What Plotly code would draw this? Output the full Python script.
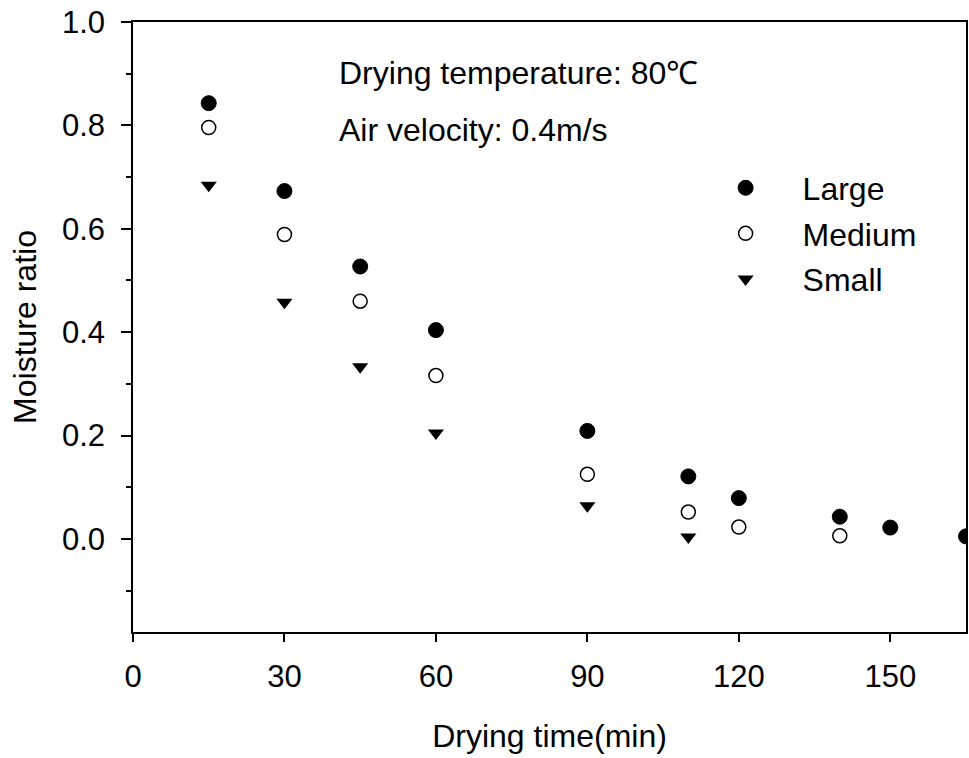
import plotly.graph_objects as go

time_large = [15, 30, 45, 60, 90, 110, 120, 140, 150, 165]
mr_large = [0.843, 0.673, 0.527, 0.404, 0.209, 0.121, 0.079, 0.043, 0.022, 0.005]
time_medium = [15, 30, 45, 60, 90, 110, 120, 140]
mr_medium = [0.796, 0.589, 0.460, 0.316, 0.125, 0.052, 0.023, 0.006]
time_small = [15, 30, 45, 60, 90, 110]
mr_small = [0.684, 0.458, 0.333, 0.205, 0.064, 0.004]

FONT = "Liberation Sans, Arial, sans-serif"

fig = go.Figure()
fig.add_trace(go.Scatter(x=time_large, y=mr_large, mode="markers", name="Large",
                         legendgroup="a",
                         marker=dict(symbol="circle", size=15, color="black",
                                     line=dict(color="black", width=1))))
fig.add_trace(go.Scatter(x=time_medium, y=mr_medium, mode="markers", name="Medium",
                         legendgroup="b",
                         marker=dict(symbol="circle-open", size=14, color="black",
                                     line=dict(color="black", width=1.5))))
fig.add_trace(go.Scatter(x=time_small, y=mr_small, mode="markers", name="Small",
                         legendgroup="c",
                         marker=dict(symbol="triangle-down", size=14, color="black",
                                     line=dict(color="black", width=0))))

fig.update_layout(
    width=969, height=758,
    margin=dict(l=133, r=1, t=22, b=126),
    paper_bgcolor="white", plot_bgcolor="white",
    font=dict(family=FONT, size=31, color="black"),
    showlegend=True,
    legend=dict(x=0.667, y=0.773, xanchor="left", yanchor="top",
                bgcolor="rgba(0,0,0,0)", font=dict(size=32),
                tracegroupgap=1, traceorder="grouped", itemwidth=104),
    xaxis=dict(range=[0, 165], tickvals=[0, 30, 60, 90, 120, 150],
               showline=True, linecolor="black", linewidth=1.5, mirror=True,
               ticks="outside", ticklen=8, tickwidth=1.5, tickcolor="black",
               showgrid=False, zeroline=False,
               title=dict(text="Drying time(min)", font=dict(size=32), standoff=32),
               tickfont=dict(size=31), ticklabelstandoff=8),
    yaxis=dict(range=[-0.18, 1.0], tickvals=[0.0, 0.2, 0.4, 0.6, 0.8, 1.0],
               tickformat=".1f",
               showline=True, linecolor="black", linewidth=1.5, mirror=True,
               ticks="outside", ticklen=10, tickwidth=1.5, tickcolor="black",
               minor=dict(tickvals=[-0.1, 0.1, 0.3, 0.5, 0.7, 0.9], ticks="outside",
                          ticklen=5, tickwidth=1.5, tickcolor="black", showgrid=False),
               showgrid=False, zeroline=False,
               title=dict(text="Moisture ratio", font=dict(size=32), standoff=16),
               tickfont=dict(size=31), ticklabelstandoff=10),
    annotations=[
        dict(text="Drying temperature: 80℃", x=337, y=73, xref="paper", yref="paper",
             showarrow=False, font=dict(size=32), xanchor="left", yanchor="middle"),
        dict(text="Air velocity: 0.4m/s", x=337, y=130, xref="paper", yref="paper",
             showarrow=False, font=dict(size=32), xanchor="left", yanchor="middle"),
    ],
)

# convert annotation pixel positions to paper coordinates
pw = 969 - 133 - 1
ph = 758 - 22 - 126
for a in fig.layout.annotations:
    a.x = (a.x - 133) / pw
    a.y = 1 - (a.y - 22) / ph

fig.write_html("out.html")
